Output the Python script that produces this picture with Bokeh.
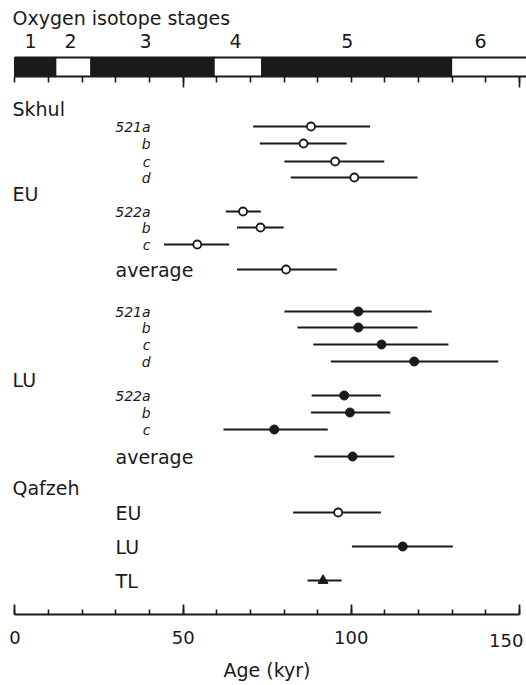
from bokeh.plotting import figure
from bokeh.models import Range1d, LinearAxis, FixedTicker
from bokeh.core.properties import value
from bokeh.embed import file_html
from bokeh.resources import INLINE

# ---------------- data ----------------
# Oxygen isotope stages (kyr)
stage_names = ["1", "2", "3", "4", "5", "6"]
stage_start = [0.0, 12.0, 22.7, 59.1, 73.5, 129.7]
stage_end = [12.0, 22.7, 59.1, 73.5, 129.7, 156.0]
stage_label_age = [4.6, 16.5, 38.8, 65.6, 98.8, 138.4]

# Skhul samples
sample_labels = ["521a", "b", "c", "d", "522a", "b", "c"]
eu_age = [88.0, 85.8, 95.2, 100.9, 67.8, 73.0, 54.2]
eu_lo = [70.8, 72.8, 80.1, 82.0, 62.7, 66.0, 44.3]
eu_hi = [105.6, 98.6, 109.8, 119.7, 73.1, 79.9, 63.7]
eu_avg = [80.6]
eu_avg_lo = [66.0]
eu_avg_hi = [95.7]

lu_age = [102.1, 102.1, 109.0, 118.7, 97.9, 99.6, 77.1]
lu_lo = [80.1, 84.0, 88.7, 93.9, 88.2, 88.0, 62.0]
lu_hi = [123.9, 119.7, 128.9, 143.7, 108.8, 111.6, 93.0]
lu_avg = [100.4]
lu_avg_lo = [89.0]
lu_avg_hi = [112.8]

# Qafzeh
qafzeh_labels = ["EU", "LU", "TL"]
qafzeh_age = [96.1, 115.3, 91.6]
qafzeh_lo = [82.7, 100.2, 87.0]
qafzeh_hi = [108.8, 130.2, 97.1]

group_labels = ["Skhul", "EU", "LU", "Qafzeh"]
axis_ticks = [0, 50, 100, 150]
axis_minor = list(range(0, 151, 10))

# ---------------- layout (vertical rows, px from top) ----------------
group_y = [108, 193, 379, 487]
eu_rows_y = [126, 143, 161, 177, 211, 227, 244]
eu_avg_y = [269]
lu_rows_y = [311, 327, 344, 361, 395, 412, 429]
lu_avg_y = [456]
qafzeh_y = [512, 546, 580]
AXIS_Y = 614
BAR_TOP, BAR_BOTTOM = 57, 76

FONT = value("DejaVu Sans")
INK = "#1a1a1a"
GROUP_X = -0.74
SUB_RIGHT_X = 40.3
SUB_LEFT_X = 29.9

p = figure(width=526, height=685,
           x_range=Range1d(-4.31, 152.1), y_range=Range1d(685, 0),
           output_backend="svg", toolbar_location=None,
           x_axis_location=None, y_axis_location=None,
           min_border=0, outline_line_color=None)
p.grid.visible = False

# stage bar
stage_fill = [INK, "white", INK, "white", INK, "white"]
p.quad(left=stage_start, right=stage_end, top=BAR_TOP, bottom=BAR_BOTTOM,
       fill_color=stage_fill, line_color=INK, line_width=2)
p.text(x=stage_label_age, y=[40] * len(stage_names), text=stage_names,
       text_align="center", text_baseline="middle", text_font=FONT,
       text_font_size="19px", text_color=INK)
p.text(x=[GROUP_X], y=[17], text=["Oxygen isotope stages"],
       text_align="left", text_baseline="middle", text_font=FONT,
       text_font_size="19px", text_color=INK)

top_ax = LinearAxis(ticker=FixedTicker(ticks=[50, 150], minor_ticks=axis_minor),
                    fixed_location=BAR_BOTTOM, axis_line_color=None,
                    major_tick_in=11, major_tick_out=0,
                    minor_tick_in=6, minor_tick_out=0,
                    major_tick_line_width=1.6, minor_tick_line_width=1.6,
                    major_tick_line_color=INK, minor_tick_line_color=INK,
                    major_label_text_color=None)
p.add_layout(top_ax, "above")

bot_ax = LinearAxis(ticker=FixedTicker(ticks=axis_ticks, minor_ticks=axis_minor),
                    fixed_location=AXIS_Y, bounds=(0, 150),
                    axis_line_width=2, axis_line_color=INK,
                    major_tick_in=10, major_tick_out=0,
                    minor_tick_in=5, minor_tick_out=0,
                    major_tick_line_width=1.8, minor_tick_line_width=1.6,
                    major_tick_line_color=INK, minor_tick_line_color=INK,
                    major_label_overrides={150: ""},
                    major_label_standoff=16,
                    major_label_text_font="DejaVu Sans",
                    major_label_text_font_size="18px",
                    major_label_text_color=INK,
                    axis_label="Age (kyr)",
                    axis_label_standoff=12,
                    axis_label_text_font="DejaVu Sans",
                    axis_label_text_font_size="19px",
                    axis_label_text_font_style="normal",
                    axis_label_text_color=INK)
p.add_layout(bot_ax, "below")
p.text(x=[axis_ticks[-1]], y=[AXIS_Y + 26], text=[str(axis_ticks[-1])],
       text_align="right", text_baseline="middle", x_offset=4,
       text_font=FONT, text_font_size="18px", text_color=INK)

# group labels
p.text(x=[GROUP_X] * 4, y=group_y, text=group_labels, text_align="left",
       text_baseline="middle", text_font=FONT, text_font_size="19px",
       text_color=INK)

def sample_block(rows_y, age, lo, hi, avg_y, avg, avg_lo, avg_hi, filled):
    p.text(x=[SUB_RIGHT_X] * len(rows_y), y=rows_y, text=sample_labels,
           text_align="right", text_baseline="middle", text_font=FONT,
           text_font_size="14px", text_font_style="italic", text_color=INK)
    p.text(x=[SUB_LEFT_X], y=avg_y, text=["average"], text_align="left",
           text_baseline="middle", text_font=FONT, text_font_size="19px",
           text_color=INK)
    ys = rows_y + avg_y
    p.segment(x0=lo + avg_lo, y0=ys, x1=hi + avg_hi, y1=ys,
              line_color=INK, line_width=1.8)
    if filled:
        p.scatter(x=age + avg, y=ys, marker="circle", size=9,
                  fill_color=INK, line_color=INK, line_width=1)
    else:
        p.scatter(x=age + avg, y=ys, marker="circle", size=8,
                  fill_color="white", line_color=INK, line_width=1.8)

sample_block(eu_rows_y, eu_age, eu_lo, eu_hi, eu_avg_y, eu_avg, eu_avg_lo, eu_avg_hi, False)
sample_block(lu_rows_y, lu_age, lu_lo, lu_hi, lu_avg_y, lu_avg, lu_avg_lo, lu_avg_hi, True)

# Qafzeh
p.text(x=[SUB_LEFT_X] * 3, y=qafzeh_y, text=qafzeh_labels, text_align="left",
       text_baseline="middle", text_font=FONT, text_font_size="19px",
       text_color=INK)
p.segment(x0=qafzeh_lo, y0=qafzeh_y, x1=qafzeh_hi, y1=qafzeh_y,
          line_color=INK, line_width=1.8)
p.scatter(x=qafzeh_age[:1], y=qafzeh_y[:1], marker="circle", size=8,
          fill_color="white", line_color=INK, line_width=1.8)
p.scatter(x=qafzeh_age[1:2], y=qafzeh_y[1:2], marker="circle", size=9,
          fill_color=INK, line_color=INK, line_width=1)
p.scatter(x=qafzeh_age[2:], y=qafzeh_y[2:], marker="triangle", size=10,
          fill_color=INK, line_color=INK, line_width=1)

open("out.html", "w").write(file_html(p, INLINE))
